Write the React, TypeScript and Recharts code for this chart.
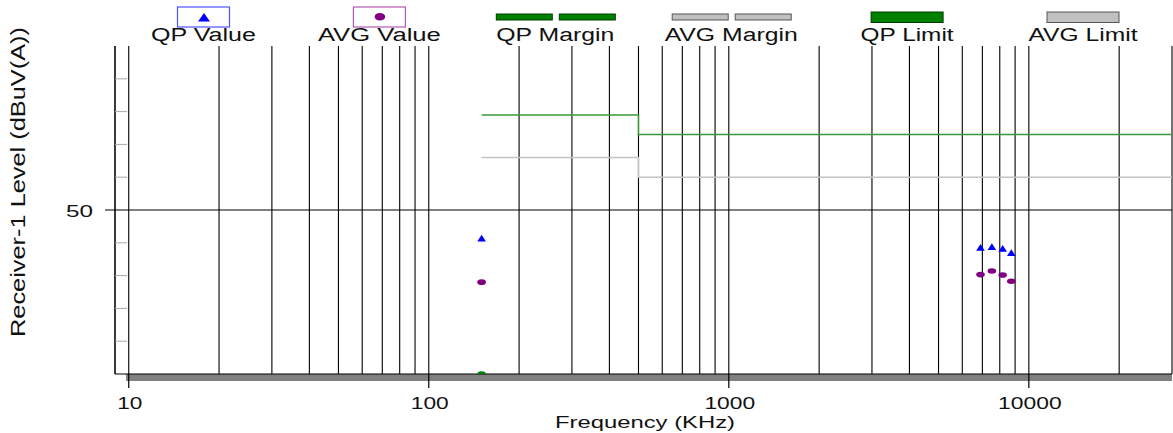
import React from 'react';
import {
  ComposedChart,
  XAxis,
  YAxis,
  CartesianGrid,
  Line,
  Scatter,
  ReferenceLine,
  ReferenceArea,
  Legend,
} from 'recharts';

// ---------- data ----------
const valueFreqs = [150, 6900, 7530, 8180, 8740];
const qpValues = [41.4, 38.6, 38.8, 38.3, 37.0];
const avgValues = [28.0, 30.3, 31.4, 30.2, 28.3];

const marginFreqs = [150];
const qpMargins = [0];

const limitFreqs = [150, 500, 30000];
const qpLimits = [79, 73, 73];
const avgLimits = [66, 60, 60];

const xTicks = [
  10, 20, 30, 40, 50, 60, 70, 80, 90,
  100, 200, 300, 400, 500, 600, 700, 800, 900,
  1000, 2000, 3000, 4000, 5000, 6000, 7000, 8000, 9000,
  10000, 20000, 30000,
];
const xLabelTicks = [10, 100, 1000, 10000];
const yTicks = [0, 10, 20, 30, 40, 50, 60, 70, 80, 90, 100];
const yLabelTicks = [50];

const legendLabels = ['QP Value', 'AVG Value', 'QP Margin', 'AVG Margin', 'QP Limit', 'AVG Limit'];
const legendKinds = ['triangle', 'circle', 'double', 'double', 'bar', 'bar'];
const legendColors = ['#0000ff', '#800080', '#008000', '#c0c0c0', '#008000', '#c0c0c0'];
const legendBorders = ['#5050ff', '#b45ab4', '#003a00', '#555555', '#003a00', '#555555'];
const legendTextWidths = [105, 123, 118, 133, 93, 109];

// ---------- derived tables ----------
const qpData = valueFreqs.map((f, i) => ({ f, v: qpValues[i] }));
const avgData = valueFreqs.map((f, i) => ({ f, v: avgValues[i] }));
const marginData = marginFreqs.map((f, i) => ({ f, v: qpMargins[i] }));
const qpLimitData = limitFreqs.map((f, i) => ({ f, v: qpLimits[i] }));
const avgLimitData = limitFreqs.map((f, i) => ({ f, v: avgLimits[i] }));

const FONT = '"Liberation Sans", Arial, Helvetica, sans-serif';

const Triangle = (props: any) => {
  const { cx, cy, fill } = props;
  if (cx == null || cy == null) return null;
  return <polygon points={`${cx},${cy - 3.5} ${cx - 4.3},${cy + 3.3} ${cx + 4.3},${cy + 3.3}`} fill={fill} />;
};

const Oval = (props: any) => {
  const { cx, cy, fill } = props;
  if (cx == null || cy == null) return null;
  return <ellipse cx={cx} cy={cy} rx={4.3} ry={2.8} fill={fill} />;
};

const renderXTick = (props: any) => {
  const { x, y, payload } = props;
  const v = payload.value;
  if (!xLabelTicks.includes(v)) return <g />;
  const label = String(v);
  return (
    <g>
      <line x1={x} x2={x} y1={y} y2={y + 14} stroke="#000" strokeWidth={1.2} />
      <text
        x={x + 1}
        y={y + 35}
        textAnchor="middle"
        fontFamily={FONT}
        fontSize={16.5}
        fill="#111"
        textLength={label.length * 12.8 - 0.5}
        lengthAdjust="spacingAndGlyphs"
      >
        {label}
      </text>
    </g>
  );
};

const renderYTick = (props: any) => {
  const { x, y, payload } = props;
  const v = payload.value;
  if (v === 0 || v === 100) return <g />;
  if (yLabelTicks.includes(v)) {
    return (
      <g>
        <line x1={x - 10} x2={x} y1={y} y2={y} stroke="#000" />
        <text
          x={x - 22}
          y={y + 7}
          textAnchor="end"
          fontFamily={FONT}
          fontSize={17}
          fill="#111"
          textLength={27}
          lengthAdjust="spacingAndGlyphs"
        >
          {String(v)}
        </text>
      </g>
    );
  }
  return <line x1={x} x2={x + 12} y1={y} y2={y} stroke="#a8a8a8" />;
};

const renderXLabel = (props: any) => {
  const vb = props.viewBox || {};
  const cx = vb.x + vb.width / 2 + 1.5;
  return (
    <text
      x={cx}
      y={vb.y + 54}
      textAnchor="middle"
      fontFamily={FONT}
      fontSize={16}
      fill="#111"
      textLength={180}
      lengthAdjust="spacingAndGlyphs"
    >
      Frequency (KHz)
    </text>
  );
};

const renderYLabel = (props: any) => {
  const vb = props.viewBox || {};
  const x = vb.x + 25;
  const y = 182;
  return (
    <text
      x={x}
      y={y}
      transform={`rotate(-90 ${x} ${y})`}
      textAnchor="middle"
      fontFamily={FONT}
      fontSize={20}
      fill="#111"
      textLength={310}
      lengthAdjust="spacingAndGlyphs"
    >
      Receiver-1 Level (dBuV(A))
    </text>
  );
};

const renderLegend = () => {
  const c0 = 203.5;
  const step = 175.9;
  return (
    <svg width={1173} height={46} style={{ display: 'block' }}>
      {legendLabels.map((label, i) => {
        const c = c0 + i * step;
        const kind = legendKinds[i];
        const color = legendColors[i];
        const border = legendBorders[i];
        let sym: React.ReactNode = null;
        if (kind === 'triangle') {
          sym = (
            <g>
              <rect x={c - 26} y={7} width={52} height={20} fill="#fff" stroke={border} strokeWidth={1.2} />
              <polygon points={`${c + 0.5},${13} ${c - 5.5},${21.5} ${c + 6.5},${21.5}`} fill={color} />
            </g>
          );
        } else if (kind === 'circle') {
          sym = (
            <g>
              <rect x={c - 26} y={7} width={52} height={20} fill="#fff" stroke={border} strokeWidth={1.2} />
              <ellipse cx={c + 0.5} cy={16.8} rx={5.3} ry={3.8} fill={color} />
            </g>
          );
        } else if (kind === 'double') {
          sym = (
            <g>
              <rect x={c - 59} y={14} width={56} height={6} fill={color} stroke={border} strokeWidth={1} />
              <rect x={c + 4} y={14} width={56} height={6} fill={color} stroke={border} strokeWidth={1} />
            </g>
          );
        } else {
          sym = <rect x={c - 36} y={12} width={72} height={10.5} fill={color} stroke={border} strokeWidth={1} />;
        }
        return (
          <g key={label}>
            {sym}
            <text
              x={c}
              y={41}
              textAnchor="middle"
              fontFamily={FONT}
              fontSize={18}
              fill="#111"
              textLength={legendTextWidths[i]}
              lengthAdjust="spacingAndGlyphs"
            >
              {label}
            </text>
          </g>
        );
      })}
    </svg>
  );
};

export default function App() {
  return (
    <div style={{ position: 'absolute', left: 0, top: 0, width: 1173, height: 433, background: '#fff' }}>
      <ComposedChart width={1173} height={433} margin={{ top: 0, right: 1, bottom: 0, left: 0 }}>
        <Legend
          verticalAlign="top"
          align="left"
          content={renderLegend}
          wrapperStyle={{ top: 0, left: 0, width: 1173, height: 46, margin: 0, padding: 0 }}
        />
        <CartesianGrid horizontal={false} vertical stroke="#000" strokeWidth={1.1} />
        <XAxis
          type="number"
          dataKey="f"
          scale="log"
          domain={[9, 30000]}
          allowDataOverflow
          ticks={xTicks}
          interval={0}
          tick={renderXTick}
          tickLine={false}
          tickSize={0}
          tickMargin={0}
          axisLine={{ stroke: '#000' }}
          height={59}
          label={renderXLabel}
        />
        <YAxis
          type="number"
          dataKey="v"
          domain={[0, 100]}
          allowDataOverflow
          ticks={yTicks}
          interval={0}
          tick={renderYTick}
          tickLine={false}
          tickSize={0}
          tickMargin={0}
          axisLine={{ stroke: '#000' }}
          width={115}
          label={renderYLabel}
        />
        <ReferenceLine y={50} stroke="#000" strokeWidth={1} />
        <Line
          data={avgLimitData}
          dataKey="v"
          type="stepAfter"
          stroke="#c4c4c4"
          strokeWidth={1.5}
          dot={false}
          activeDot={false}
          isAnimationActive={false}
          legendType="none"
        />
        <Line
          data={qpLimitData}
          dataKey="v"
          type="stepAfter"
          stroke="#3a9a3a"
          strokeWidth={1.5}
          dot={false}
          activeDot={false}
          isAnimationActive={false}
          legendType="none"
        />
        <Scatter data={marginData} dataKey="v" fill="#008000" shape={<Oval />} isAnimationActive={false} legendType="none" />
        <Scatter data={qpData} dataKey="v" fill="#0000ff" shape={<Triangle />} isAnimationActive={false} legendType="none" />
        <Scatter data={avgData} dataKey="v" fill="#800080" shape={<Oval />} isAnimationActive={false} legendType="none" />
        <ReferenceArea
          x1={9.8}
          x2={30000}
          y1={-2.15}
          y2={0}
          fill="#808080"
          fillOpacity={1}
          stroke="none"
          ifOverflow="visible"
        />
      </ComposedChart>
    </div>
  );
}
